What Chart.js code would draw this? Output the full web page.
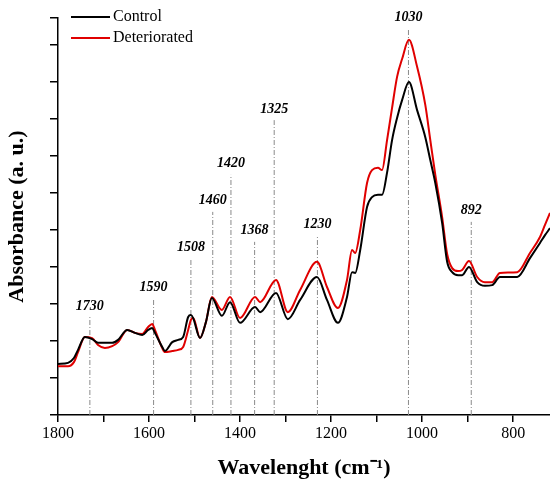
<!DOCTYPE html>
<html>
<head>
<meta charset="utf-8">
<script src="https://cdn.jsdelivr.net/npm/chart.js@4.4.1/dist/chart.umd.min.js"></script>
<style>
  html, body { margin: 0; padding: 0; background: #fff; }
  #wrap { width: 550px; height: 488px; }
</style>
</head>
<body>
<div id="wrap"><canvas id="myChart"></canvas></div>
<script>
// wavenumber (cm-1) and absorbance
var wavenumbers = [1800,1778,1765,1756,1741,1725,1712,1697,1681,1668,1648,1631,1615,1602,1593,1587,1571,1565,1549,1536,1525,1514,1508,1503,1488,1475,1462,1440,1422,1400,1367,1356,1321,1295,1268,1231,1209,1185,1165,1154,1147,1136,1121,1110,1097,1088,1077,1066,1055,1044,1029,1011,993,982,971,956,945,934,921,912,897,879,862,846,829,791,763,741,730,719];
var control = [1.38,1.41,1.54,1.76,2.11,2.05,1.95,1.95,1.95,2.03,2.30,2.22,2.16,2.30,2.35,2.22,1.84,1.73,1.97,2.03,2.11,2.65,2.70,2.62,2.08,2.51,3.16,2.68,3.05,2.49,2.92,2.78,3.30,2.59,3.11,3.73,3.11,2.49,3.19,3.86,3.84,4.46,5.62,5.89,5.95,5.95,6.55,7.43,8.03,8.51,9.00,8.24,7.51,6.89,6.27,5.19,4.14,3.86,3.78,3.78,4.00,3.59,3.49,3.51,3.73,3.73,4.24,4.65,4.86,5.05];
var deteriorated = [1.32,1.32,1.43,1.70,2.11,2.08,1.89,1.81,1.86,1.97,2.30,2.22,2.19,2.38,2.46,2.30,1.81,1.70,1.73,1.76,1.84,2.30,2.57,2.62,2.08,2.51,3.19,2.84,3.19,2.62,3.19,3.05,3.65,2.78,3.38,4.14,3.46,2.89,3.65,4.46,4.38,5.00,6.27,6.62,6.68,6.62,7.43,8.30,9.14,9.62,10.14,9.41,8.38,7.43,6.49,5.35,4.35,3.97,3.89,3.92,4.16,3.73,3.59,3.59,3.84,3.86,4.38,4.81,5.14,5.46];

// marked bands and height of their guide lines
var peaks = [1730,1590,1508,1460,1420,1368,1325,1230,1030,892];
var peakTop = [2.65,3.16,4.24,5.49,6.49,4.68,7.97,4.86,10.46,5.22];

var serif = "'Liberation Serif', 'Times New Roman', serif";

function toPoints(xs, ys) {
    return xs.map(function (x, i) { return { x: x, y: ys[i] }; });
}

var datasets = [
    { label: 'Control', data: toPoints(wavenumbers, control), borderColor: '#000000', backgroundColor: '#000000', borderWidth: 2, pointRadius: 0, cubicInterpolationMode: 'monotone', order: 0 },
    { label: 'Deteriorated', data: toPoints(wavenumbers, deteriorated), borderColor: '#e00000', backgroundColor: '#e00000', borderWidth: 2, pointRadius: 0, cubicInterpolationMode: 'monotone', order: 0 }
];
peaks.forEach(function (p, i) {
    datasets.push({
        label: 'peak' + p,
        data: [{ x: p, y: 0 }, { x: p, y: peakTop[i] }],
        borderColor: '#8a8a8a', borderWidth: 1, borderDash: [5, 2, 1, 2],
        pointRadius: 0, order: 5, isPeak: true
    });
});

// numbers above the guide lines
var peakLabels = {
    id: 'peakLabels',
    afterDatasetsDraw: function (chart) {
        var ctx = chart.ctx, xs = chart.scales.x, ys = chart.scales.y;
        ctx.save();
        ctx.font = 'italic bold 14px ' + serif;
        ctx.fillStyle = '#000';
        ctx.textAlign = 'center';
        ctx.textBaseline = 'middle';
        peaks.forEach(function (p, i) {
            ctx.fillText(String(p), xs.getPixelForValue(p), ys.getPixelForValue(peakTop[i]) - 11);
        });
        ctx.restore();
    }
};

// legend in the top-left corner of the frame
var cornerLegend = {
    id: 'cornerLegend',
    afterDraw: function (chart) {
        var ctx = chart.ctx, a = chart.chartArea;
        ctx.save();
        ctx.font = '16px ' + serif;
        ctx.textBaseline = 'middle';
        [0, 1].forEach(function (i) {
            var ds = chart.data.datasets[i];
            var y = a.top - 1 + i * 21;
            ctx.strokeStyle = ds.borderColor;
            ctx.lineWidth = 2;
            ctx.beginPath();
            ctx.moveTo(a.left + 13, y);
            ctx.lineTo(a.left + 52, y);
            ctx.stroke();
            ctx.fillStyle = '#000';
            ctx.fillText(ds.label, a.left + 55, y);
        });
        ctx.restore();
    }
};

var ctx = document.getElementById('myChart');
var myChart = new Chart(ctx, {
    type: 'line',
    data: { datasets: datasets },
    plugins: [peakLabels, cornerLegend],
    options: {
        responsive: true,
        maintainAspectRatio: false,
        animation: false,
        layout: { padding: { top: 18, right: 0, left: 0, bottom: 0 } },
        plugins: {
            legend: { display: false },
            tooltip: { enabled: false }
        },
        scales: {
            x: {
                type: 'linear',
                reverse: true,
                min: 719,
                max: 1800,
                border: { color: '#000', width: 1.5 },
                grid: { drawOnChartArea: false, drawTicks: true, tickLength: 7, color: '#000', lineWidth: 1.5 },
                ticks: {
                    stepSize: 100,
                    includeBounds: false,
                    autoSkip: false,
                    maxRotation: 0,
                    padding: 2,
                    color: '#000',
                    font: { family: serif, size: 16 },
                    callback: function (v) { return v % 200 === 0 ? String(v) : ''; }
                },
                title: {
                    display: true,
                    text: 'Wavelenght (cm\u207B\u00B9)',
                    color: '#000',
                    font: { family: serif, size: 22, weight: 'bold' },
                    padding: { top: 4, bottom: 6 }
                },
                afterFit: function (scale) { scale.height = 73; }
            },
            y: {
                min: 0,
                max: 10.73,
                border: { color: '#000', width: 1.5 },
                grid: { drawOnChartArea: false, drawTicks: true, tickLength: 8, color: '#000', lineWidth: 1.5 },
                ticks: { stepSize: 1, display: false },
                title: {
                    display: true,
                    text: 'Absorbance (a. u.)',
                    color: '#000',
                    font: { family: serif, size: 22, weight: 'bold' },
                    padding: { top: 4, bottom: 4 }
                },
                afterFit: function (scale) { scale.width = 58; }
            }
        }
    }
});
</script>
</body>
</html>
